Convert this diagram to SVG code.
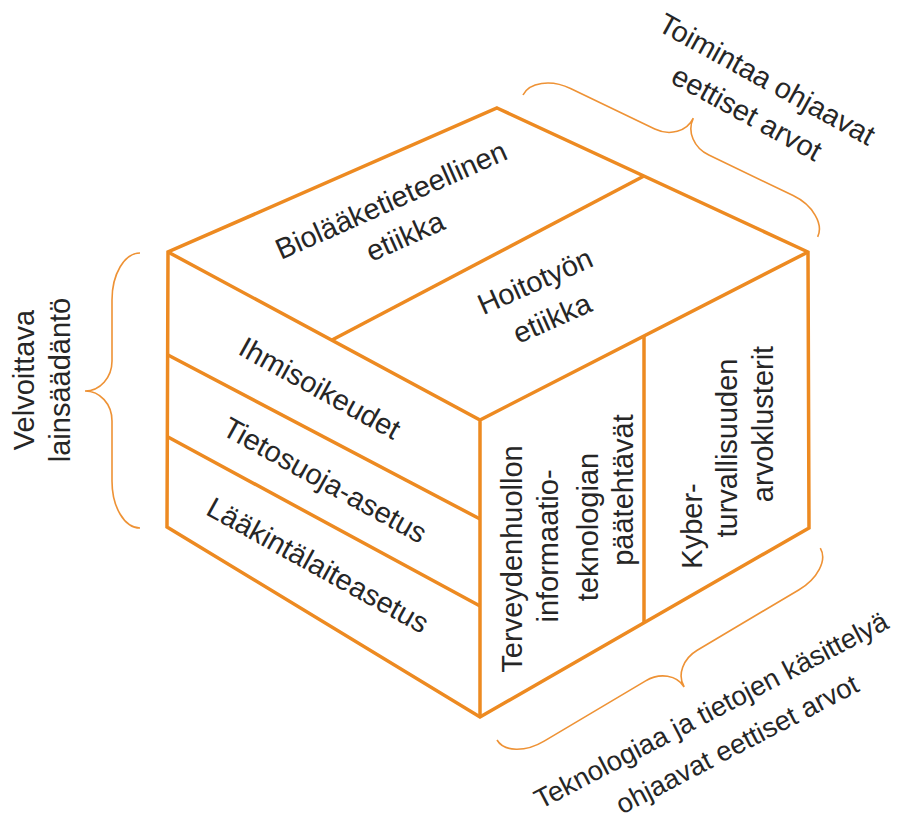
<svg xmlns="http://www.w3.org/2000/svg" width="905" height="824" viewBox="0 0 905 824">
<style>
.e{fill:none;stroke:#ED8A21;stroke-width:3.5;stroke-linejoin:miter;stroke-linecap:butt}
.b{fill:none;stroke:#EE9235;stroke-width:1.6}
text{font-family:"Liberation Sans",Arial,sans-serif;font-size:29px;fill:#262626;text-anchor:middle}
.s{font-size:27.5px}
</style>
<rect width="905" height="824" fill="#ffffff"/>
<g id="cube">
  <path class="e" d="M497,108 L808,252 L809,528 L480,717 L167,527 L168,252 Z"/>
  <path class="e" d="M168,252 L480,420 L808,252 M480,420 L480,717"/>
</g>
<g id="connectors">
  <path class="e" d="M644,176 L332,340"/>
  <path class="e" d="M168,355 L480,519 M168,437 L480,606"/>
  <path class="e" d="M644,336 L644,623"/>
</g>
<g id="braces">
  <path id="brace-left" class="b" d="M140,253 C124.5,253 112,274 112,300 L112,361 C112,377.5 100,391 85,391 C100,391 112,404 112,421 L112,481 C112,507 124.5,528 140,528"/>
  <path id="brace-top" class="b" transform="translate(523,95) rotate(25.7)" d="M0,0 C0,-14 18,-26.5 40,-26.5 L133.5,-26.5 C150,-26.5 163.5,-38 163.5,-53 C163.5,-38 177,-26.5 193.5,-26.5 L287,-26.5 C309,-26.5 327,-14 327,0"/>
  <path id="brace-bottom" class="b" transform="translate(497,740) rotate(-30.7) scale(1,-1)" d="M0,0 C0,-14 18,-25 40,-25 L158,-25 C174.5,-25 188,-36 188,-50 C188,-36 201.5,-25 218,-25 L336,-25 C358,-25 376,-14 376,0"/>
</g>
<g id="node-biolaaketieteellinen">
  <text transform="translate(391,200) rotate(-24)" dy="0.35em">Biolääketieteellinen</text>
  <text transform="translate(405,236) rotate(-24)" dy="0.35em">etiikka</text>
</g>
<g id="node-hoitotyon">
  <text transform="translate(535,281) rotate(-24)" dy="0.35em">Hoitotyön</text>
  <text transform="translate(552,318) rotate(-24)" dy="0.35em">etiikka</text>
</g>
<g id="node-ihmisoikeudet">
  <text transform="translate(320,388) rotate(29)" dy="0.35em">Ihmisoikeudet</text>
</g>
<g id="node-tietosuoja">
  <text transform="translate(325,480) rotate(29)" dy="0.35em">Tietosuoja-asetus</text>
</g>
<g id="node-laakintalaite">
  <text transform="translate(318,565) rotate(29)" dy="0.35em">Lääkintälaiteasetus</text>
</g>
<g id="node-terveydenhuolto">
  <text transform="translate(512,559) rotate(-90)" dy="0.35em">Terveydenhuollon</text>
  <text transform="translate(548,546) rotate(-90)" dy="0.35em">informaatio-</text>
  <text transform="translate(588,527) rotate(-90)" dy="0.35em">teknologian</text>
  <text transform="translate(623,490) rotate(-90)" dy="0.35em">päätehtävät</text>
</g>
<g id="node-kyber">
  <text transform="translate(692,526) rotate(-90)" dy="0.35em">Kyber-</text>
  <text transform="translate(727,448) rotate(-90)" dy="0.35em">turvallisuuden</text>
  <text transform="translate(763,424) rotate(-90)" dy="0.35em">arvoklusterit</text>
</g>
<g id="label-velvoittava">
  <text transform="translate(24,380) rotate(-90)" dy="0.35em">Velvoittava</text>
  <text transform="translate(60,380) rotate(-90)" dy="0.35em">lainsäädäntö</text>
</g>
<g id="label-toimintaa">
  <text transform="translate(767,79) rotate(28.8)" dy="0.35em">Toimintaa ohjaavat</text>
  <text transform="translate(747,113) rotate(28.8)" dy="0.35em">eettiset arvot</text>
</g>
<g id="label-teknologiaa">
  <text class="s" transform="translate(711,710) rotate(-27.5)" dy="0.35em">Teknologiaa ja tietojen käsittelyä</text>
  <text class="s" transform="translate(737,744) rotate(-27.5)" dy="0.35em">ohjaavat eettiset arvot</text>
</g>
</svg>
